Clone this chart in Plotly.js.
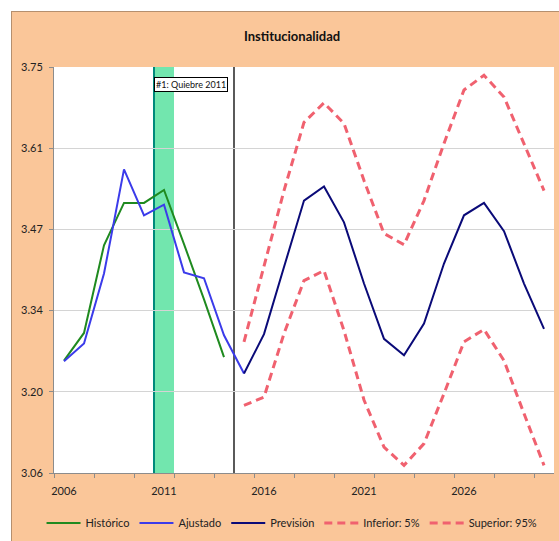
<!DOCTYPE html>
<html>
<head>
<meta charset="utf-8">
<script src="https://cdn.plot.ly/plotly-3.0.1.min.js"></script>
<style>
  html, body { margin: 0; padding: 0; background: #ffffff; overflow: hidden; }
  #frame { position: absolute; left: 11px; top: 11px; border-left: 1px solid #B58F6E; border-top: 1px solid #B58F6E; }
  #chart { width: 547px; height: 529px; }
</style>
</head>
<body>
<div id="frame"><div id="chart"></div></div>
<script>
// ---- data ----
const histYears  = [2006, 2007, 2008, 2009, 2010, 2011, 2012, 2013, 2014];
const historico  = [3.251, 3.298, 3.447, 3.519, 3.519, 3.541, 3.449, 3.355, 3.257];

const ajustYears = [2006, 2007, 2008, 2009, 2010, 2011, 2012, 2013, 2014, 2015];
const ajustado   = [3.250, 3.280, 3.399, 3.576, 3.498, 3.516, 3.401, 3.391, 3.294, 3.229];

const prevYears  = [2015, 2016, 2017, 2018, 2019, 2020, 2021, 2022, 2023, 2024, 2025, 2026, 2027, 2028, 2029, 2030];
const prevision  = [3.229, 3.296, 3.410, 3.523, 3.547, 3.486, 3.382, 3.288, 3.260, 3.314, 3.416, 3.498, 3.519, 3.471, 3.382, 3.305];
const inferior   = [3.175, 3.189, 3.297, 3.387, 3.404, 3.302, 3.184, 3.104, 3.073, 3.110, 3.195, 3.283, 3.304, 3.251, 3.161, 3.073];
const superior   = [3.283, 3.410, 3.540, 3.656, 3.689, 3.654, 3.557, 3.467, 3.448, 3.523, 3.620, 3.711, 3.736, 3.699, 3.620, 3.540];

const yTickVals  = [3.06, 3.198, 3.336, 3.474, 3.612, 3.75];
const yTickText  = ['3.06', '3.20', '3.34', '3.47', '3.61', '3.75'];
const xTickVals  = [2006, 2011, 2016, 2021, 2026];
const xTickText  = ['2006', '2011', '2016', '2021', '2026'];

const breakYear     = 2011;   // "#1: Quiebre 2011"
const forecastStart = 2015;
const firstYear = 2006, lastYear = 2030;
const breakLabel = '#1: Quiebre 2011';

// ---- chart ----
const FONT = 'Lato, "Open Sans", sans-serif';
const dashPat = '8px,5px';

const traces = [
  { x: histYears, y: historico, name: 'Histórico', mode: 'lines',
    line: { color: '#1F8A1F', width: 2 } },
  { x: ajustYears, y: ajustado, name: 'Ajustado', mode: 'lines',
    line: { color: '#3B3BEA', width: 2 } },
  { x: prevYears, y: prevision, name: 'Previsión', mode: 'lines',
    line: { color: '#0A0A78', width: 2 } },
  { x: prevYears, y: inferior, name: 'Inferior: 5%', mode: 'lines',
    line: { color: '#F0616F', width: 3, dash: dashPat } },
  { x: prevYears, y: superior, name: 'Superior: 95%', mode: 'lines',
    line: { color: '#F0616F', width: 3, dash: dashPat } }
];

const layout = {
  width: 547, height: 529,
  paper_bgcolor: '#FAC699',
  plot_bgcolor: '#FFFFFF',
  margin: { l: 42, r: 5, t: 55, b: 68, pad: 0 },
  font: { family: FONT, size: 11, color: '#222222' },
  title: { text: '<b>Institucionalidad</b>', x: 0.512, xanchor: 'center', y: 1 - 24 / 529, yanchor: 'middle',
           font: { family: FONT, size: 13, color: '#111111' } },
  showlegend: true,
  legend: { orientation: 'h', xref: 'container', yref: 'container', x: 0.054, y: 1 - 511 / 529,
            xanchor: 'left', yanchor: 'middle', bgcolor: 'rgba(0,0,0,0)',
            font: { family: FONT, size: 11, color: '#222222' }, itemwidth: 34, tracegroupgap: 0 },
  xaxis: {
    range: [firstYear - 0.5, lastYear + 0.5],
    tickmode: 'array', tickvals: xTickVals, ticktext: xTickText,
    ticks: '', showgrid: false, zeroline: false, ticklabelstandoff: 8,
    showline: true, linecolor: '#8C8C8C', linewidth: 1,
    tickfont: { family: FONT, size: 11, color: '#222222' },
    minor: { tick0: firstYear - 0.5, dtick: 2, ticks: 'outside', ticklen: 4, tickcolor: '#8C8C8C', tickwidth: 1, showgrid: false }
  },
  yaxis: {
    range: [yTickVals[0], yTickVals[yTickVals.length - 1]],
    tickmode: 'array', tickvals: yTickVals, ticktext: yTickText,
    ticks: 'outside', ticklen: 4, tickcolor: '#8C8C8C', ticklabelstandoff: 4,
    showgrid: true, gridcolor: '#D4D4D4', gridwidth: 1, zeroline: false,
    showline: true, linecolor: '#8C8C8C', linewidth: 1,
    tickfont: { family: FONT, size: 11, color: '#222222' }
  },
  shapes: [
    { type: 'rect', xref: 'x', yref: 'paper', x0: breakYear - 0.5, x1: breakYear + 0.5, y0: 0, y1: 1,
      fillcolor: '#72E6AE', line: { width: 0 }, layer: 'between' },
    { type: 'line', xref: 'x', yref: 'paper', x0: breakYear - 0.5, x1: breakYear - 0.5, y0: 0, y1: 1,
      line: { color: '#00897B', width: 2 }, layer: 'between' },
    { type: 'line', xref: 'x', yref: 'paper', x0: forecastStart - 0.5, x1: forecastStart - 0.5, y0: 0, y1: 1,
      line: { color: '#000000', width: 1.3 }, layer: 'between' }
  ],
  annotations: [
    { xref: 'x', yref: 'paper', x: breakYear - 0.5, y: 1 - 10 / 406, xanchor: 'left', yanchor: 'top',
      text: breakLabel, showarrow: false, bgcolor: '#FFFFFF', bordercolor: '#000000', borderwidth: 1, borderpad: 1,
      font: { family: FONT, size: 9, color: '#111111' } }
  ]
};

Plotly.newPlot('chart', traces, layout, { displayModeBar: false, staticPlot: true });
</script>
</body>
</html>
